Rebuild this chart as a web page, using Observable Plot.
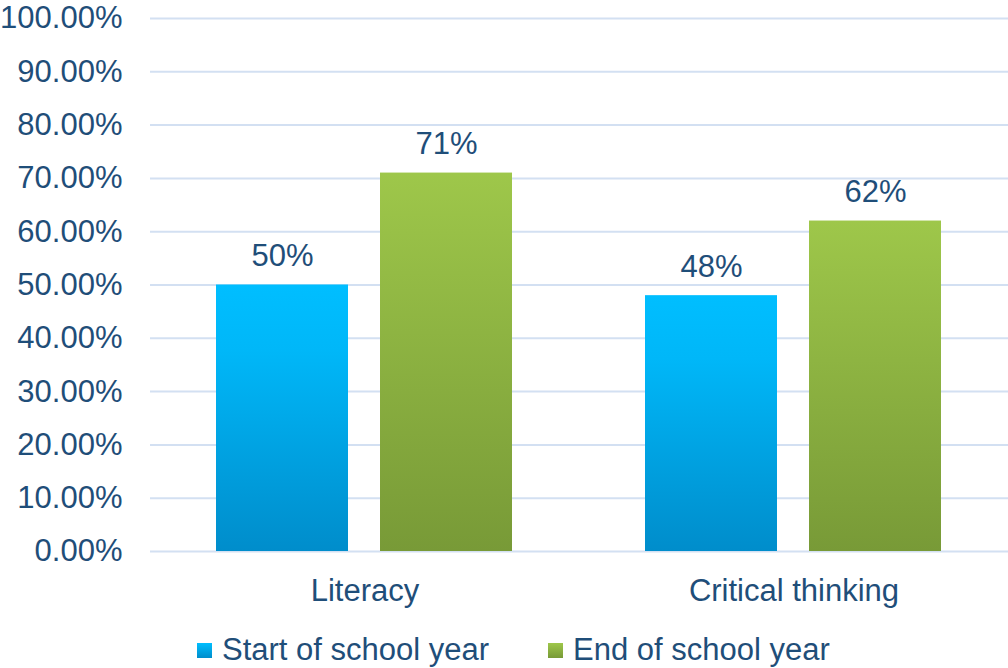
<!DOCTYPE html>
<html><head><meta charset="utf-8">
<script src="https://cdn.jsdelivr.net/npm/d3@7"></script>
<script src="https://cdn.jsdelivr.net/npm/@observablehq/plot@0.6"></script>
<style>
body{margin:0;background:#fff;font-family:"Liberation Sans",Arial,sans-serif;}
#wrap{position:relative;width:1008px;height:668px;overflow:hidden;}
#legend{position:absolute;left:0;top:626px;width:1008px;height:48px;}
.item{position:absolute;top:0;height:48px;display:flex;align-items:center;font-size:31px;color:#1F4E79;white-space:nowrap;}
.sw{width:15px;height:15px;margin-right:10px;}
</style></head>
<body><div id="wrap"><div id="chart"></div><div id="legend"></div></div>
<script>
const categories = ["Literacy", "Critical thinking"];
const series = ["Start of school year", "End of school year"];
const startValues = [50, 48];
const endValues = [71, 62];
const yTicks = [0, 10, 20, 30, 40, 50, 60, 70, 80, 90, 100];

const data = categories.flatMap((c, i) => [
  {category: c, series: series[0], value: startValues[i]},
  {category: c, series: series[1], value: endValues[i]}
]);
const textColor = "#1F4E79";
const fs = 31;

const plot = Plot.plot({
  width: 1008, height: 620,
  marginLeft: 150, marginRight: 0, marginTop: 18, marginBottom: 69,
  style: {fontFamily: '"Liberation Sans", Arial, sans-serif', fontSize: fs + "px", color: textColor, background: "transparent"},
  fx: {domain: categories, padding: 0, label: null, axis: null},
  x: {domain: series, paddingInner: 0.195, paddingOuter: 0.405, axis: null},
  y: {domain: [0, 100], axis: null, label: null},
  color: {domain: series, range: ["url(#gBlue)", "url(#gGreen)"]},
  marks: [
    Plot.ruleY(yTicks, {y: d => d, stroke: "#D3E0F2", strokeWidth: 2}),
    Plot.barY(data, {fx: "category", x: "series", y: "value", fill: "series", style: "filter:url(#shadow)"}),
    Plot.text(data, {fx: "category", x: "series", y: "value", text: d => d.value + "%", dy: -29, fill: textColor, fontSize: fs}),
    Plot.axisY(yTicks, {tickSize: 0, tickPadding: 28, tickFormat: d => d.toFixed(2) + "%", fontSize: fs, fill: textColor, label: null}),
    Plot.axisFx({anchor: "bottom", tickSize: 0, tickPadding: 27, fontSize: fs, fill: textColor, label: null})
  ]
});

const ns = "http://www.w3.org/2000/svg";
const defs = document.createElementNS(ns, "defs");
defs.innerHTML = `
<linearGradient id="gBlue" x1="0" y1="0" x2="0" y2="1" gradientUnits="objectBoundingBox">
  <stop offset="0" stop-color="#00BEFF"/><stop offset="0.25" stop-color="#00B7F8"/><stop offset="1" stop-color="#008DCB"/>
</linearGradient>
<linearGradient id="gGreen" x1="0" y1="0" x2="0" y2="1" gradientUnits="objectBoundingBox">
  <stop offset="0" stop-color="#9EC74A"/><stop offset="1" stop-color="#789A37"/>
</linearGradient>
<filter id="shadow" x="-10%" y="-10%" width="120%" height="120%">
  <feDropShadow dx="1" dy="1" stdDeviation="2" flood-color="#000" flood-opacity="0.18"/>
</filter>`;
plot.insertBefore(defs, plot.firstChild);
document.getElementById("chart").appendChild(plot);

const legend = document.getElementById("legend");
const legendLeft = [197, 548];
const legendFill = ["linear-gradient(#00BEFF,#008DCB)", "linear-gradient(#9EC74A,#789A37)"];
series.forEach((s, i) => {
  const it = document.createElement("div");
  it.className = "item";
  it.style.left = legendLeft[i] + "px";
  const sw = document.createElement("span");
  sw.className = "sw";
  sw.style.background = legendFill[i];
  it.appendChild(sw);
  it.appendChild(document.createTextNode(s));
  legend.appendChild(it);
});
</script>
</body></html>
